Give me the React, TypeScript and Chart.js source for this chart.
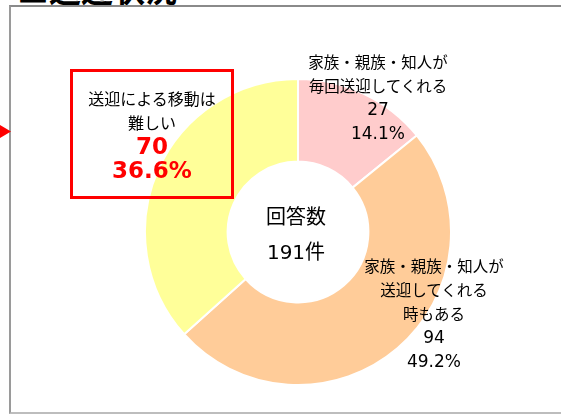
import React, { useEffect, useRef } from "react";
import { Chart, registerables } from "chart.js";

Chart.register(...registerables);

const categories = [
  ["家族・親族・知人が", "毎回送迎してくれる"],
  ["家族・親族・知人が", "送迎してくれる", "時もある"],
  ["送迎による移動は", "難しい"],
];
const values = [27, 94, 70];
const colors = ["#FFCCCC", "#FFCC99", "#FFFF99"];
const title = "■送迎状況";
const centerTitle = "回答数";
const unit = "件";

const total = values.reduce((a, b) => a + b, 0);
const pct = (v: number) => ((v / total) * 100).toFixed(1) + "%";

const CJK = '"Noto Sans CJK JP", "Noto Sans", sans-serif';
const NUM = '"DejaVu Sans", "Noto Sans CJK JP", sans-serif';

function Label({ x, y, lines, nums, numColor, numBold, numSize, textSize }: any) {
  return (
    <div
      style={{
        position: "absolute",
        left: x,
        top: y,
        transform: "translateX(-50%)",
        textAlign: "center",
        whiteSpace: "nowrap",
        color: "#000",
      }}
    >
      {lines.map((l: string, i: number) => (
        <div key={"l" + i} style={{ font: `${textSize}px ${CJK}`, lineHeight: "24px", height: 24 }}>
          {l}
        </div>
      ))}
      {nums.map((l: string, i: number) => (
        <div
          key={"n" + i}
          style={{
            font: `${numBold ? "bold " : ""}${numSize}px ${NUM}`,
            lineHeight: "24px",
            height: 24,
            color: numColor,
          }}
        >
          {l}
        </div>
      ))}
    </div>
  );
}

export default function App() {
  const ref = useRef<HTMLCanvasElement | null>(null);
  useEffect(() => {
    const chart = new Chart(ref.current as HTMLCanvasElement, {
      type: "doughnut",
      data: {
        labels: categories.map((c) => c.join("")),
        datasets: [
          {
            data: values,
            backgroundColor: colors,
            borderColor: "#FFFFFF",
            borderWidth: 2,
          },
        ],
      },
      options: {
        responsive: false,
        animation: false,
        cutout: "46%",
        plugins: { legend: { display: false }, tooltip: { enabled: false } },
        layout: { padding: 0 },
      },
    });
    return () => chart.destroy();
  }, []);

  return (
    <div
      style={{
        position: "fixed",
        left: 0,
        top: 0,
        width: 561,
        height: 415,
        overflow: "hidden",
        background: "#fff",
      }}
    >
      <div
        style={{
          position: "absolute",
          left: 17,
          top: -28,
          font: `bold 32px ${CJK}`,
          lineHeight: "32px",
          color: "#000",
          whiteSpace: "nowrap",
        }}
      >
        {title}
      </div>
      <div
        style={{
          position: "absolute",
          left: 9,
          top: 5,
          width: 620,
          height: 409,
          boxSizing: "border-box",
          borderTop: "2px solid #8a8a8a",
          borderLeft: "2px solid #9a9a9a",
          borderBottom: "2px solid #bdbdbd",
        }}
      />
      <svg style={{ position: "absolute", left: 0, top: 0 }} width={20} height={200}>
        <polygon points="0,125 11,131.5 0,138" fill="#FF0000" />
      </svg>
      <canvas
        ref={ref}
        width={308}
        height={308}
        style={{ position: "absolute", left: 144, top: 78, width: 308, height: 308 }}
      />
      <div
        style={{
          position: "absolute",
          left: 296,
          top: 203,
          transform: "translateX(-50%)",
          textAlign: "center",
          whiteSpace: "nowrap",
          color: "#000",
        }}
      >
        <div style={{ font: `20px ${CJK}`, lineHeight: "26px", height: 35 }}>{centerTitle}</div>
        <div style={{ font: `20px ${NUM}`, lineHeight: "26px" }}>
          {total}
          <span style={{ fontFamily: CJK }}>{unit}</span>
        </div>
      </div>
      <Label
        x={378}
        y={49}
        lines={categories[0]}
        nums={[String(values[0]), pct(values[0])]}
        numColor="#000"
        numSize={17}
        textSize={15.5}
      />
      <Label
        x={434}
        y={253}
        lines={categories[1]}
        nums={[String(values[1]), pct(values[1])]}
        numColor="#000"
        numSize={17}
        textSize={15.5}
      />
      <div
        style={{
          position: "absolute",
          left: 70,
          top: 69,
          width: 164,
          height: 130,
          boxSizing: "border-box",
          border: "3px solid #FF0000",
        }}
      />
      <Label
        x={152}
        y={86}
        lines={categories[2]}
        nums={[String(values[2]), pct(values[2])]}
        numColor="#FF0000"
        numBold
        numSize={23}
        textSize={16}
      />
    </div>
  );
}
